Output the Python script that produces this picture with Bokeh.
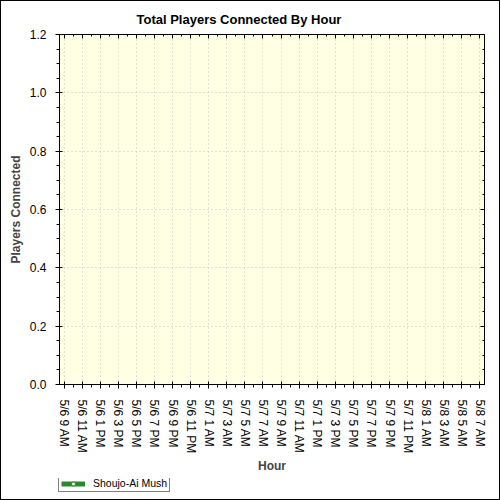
from bokeh.plotting import figure
from bokeh.layouts import column
from bokeh.models import (Range1d, FixedTicker, LinearAxis,
                          Legend, LegendItem, ColumnDataSource, Title)
from bokeh.embed import file_html
from bokeh.resources import INLINE

hours = ["5/6 9 AM", "5/6 10 AM", "5/6 11 AM", "5/6 12 PM", "5/6 1 PM", "5/6 2 PM",
         "5/6 3 PM", "5/6 4 PM", "5/6 5 PM", "5/6 6 PM", "5/6 7 PM", "5/6 8 PM",
         "5/6 9 PM", "5/6 10 PM", "5/6 11 PM", "5/7 12 AM", "5/7 1 AM", "5/7 2 AM",
         "5/7 3 AM", "5/7 4 AM", "5/7 5 AM", "5/7 6 AM", "5/7 7 AM", "5/7 8 AM",
         "5/7 9 AM", "5/7 10 AM", "5/7 11 AM", "5/7 12 PM", "5/7 1 PM", "5/7 2 PM",
         "5/7 3 PM", "5/7 4 PM", "5/7 5 PM", "5/7 6 PM", "5/7 7 PM", "5/7 8 PM",
         "5/7 9 PM", "5/7 10 PM", "5/7 11 PM", "5/8 12 AM", "5/8 1 AM", "5/8 2 AM",
         "5/8 3 AM", "5/8 4 AM", "5/8 5 AM", "5/8 6 AM", "5/8 7 AM"]

tick_labels = ["5/6 9 AM", "5/6 11 AM", "5/6 1 PM", "5/6 3 PM", "5/6 5 PM", "5/6 7 PM",
               "5/6 9 PM", "5/6 11 PM", "5/7 1 AM", "5/7 3 AM", "5/7 5 AM", "5/7 7 AM",
               "5/7 9 AM", "5/7 11 AM", "5/7 1 PM", "5/7 3 PM", "5/7 5 PM", "5/7 7 PM",
               "5/7 9 PM", "5/7 11 PM", "5/8 1 AM", "5/8 3 AM", "5/8 5 AM", "5/8 7 AM"]

y_ticks = [0.0, 0.2, 0.4, 0.6, 0.8, 1.0, 1.2]
y_tick_labels = ["0.0", "0.2", "0.4", "0.6", "0.8", "1.0", "1.2"]

series_name = "Shoujo-Ai Mush"
players = [0, 0, 0, 0, 0, 0, 0, 0, 0, 0, 0, 0, 0, 0, 0, 0, 0, 0, 0, 0, 0, 0, 0, 0,
           0, 0, 0, 0, 0, 0, 0, 0, 0, 0, 0, 0, 0, 0, 0, 0, 0, 0, 0, 0, 0, 0, 0]

FONT = "Liberation Sans"
GREEN = "#2A8A2A"

idx = list(range(len(hours)))
major_pos = [hours.index(t) for t in tick_labels]
minor_pos = [i for i in idx if i not in major_pos]
overrides = {hours.index(t): t for t in tick_labels}

y_minor = []
for a, b in zip(y_ticks[:-1], y_ticks[1:]):
    step = (b - a) / 4
    y_minor += [a + step, a + 2 * step, a + 3 * step]

src = ColumnDataSource(data=dict(x=idx, y=players, hour=hours))

P_H = 477
p = figure(width=498, height=P_H,
           x_range=Range1d(-0.5, len(hours) - 0.5), y_range=Range1d(0, 1.2),
           output_backend="svg", toolbar_location=None, frame_align=False,
           min_border_left=58, min_border_right=15, min_border_top=33, min_border_bottom=P_H - 383,
           background_fill_color="#FFFFE4", border_fill_color="white",
           outline_line_color="black", outline_line_width=1)

p.title = Title(text="Total Players Connected By Hour", align="left", offset=77,
                text_font=FONT, text_font_size="13px", text_font_style="bold",
                text_color="black", standoff=16, text_line_height=0.6)

xticker = FixedTicker(ticks=major_pos, minor_ticks=minor_pos)
yticker = FixedTicker(ticks=y_ticks, minor_ticks=y_minor)

# bottom axis
xa = p.xaxis[0]
xa.ticker = xticker
xa.major_label_overrides = overrides
xa.major_label_orientation = "vertical"
xa.major_label_text_font = FONT
xa.major_label_text_font_size = "12px"
xa.major_label_text_color = "black"
xa.major_label_standoff = 11
xa.axis_label = "Hour"
xa.axis_label_text_font = FONT
xa.axis_label_text_font_size = "12px"
xa.axis_label_text_font_style = "bold"
xa.axis_label_standoff = 3
xa.major_tick_in = 3
xa.major_tick_out = 4
xa.minor_tick_in = 0
xa.minor_tick_out = 3

# left axis
ya = p.yaxis[0]
ya.ticker = yticker
ya.major_label_overrides = dict(zip(y_ticks, y_tick_labels))
ya.major_label_text_font = FONT
ya.major_label_text_font_size = "12px"
ya.major_label_text_color = "black"
ya.major_label_standoff = 9
ya.axis_label = "Players Connected"
ya.axis_label_text_font = FONT
ya.axis_label_text_font_size = "12px"
ya.axis_label_text_font_style = "bold"
ya.axis_label_standoff = 4
ya.major_tick_in = 3
ya.major_tick_out = 4
ya.minor_tick_in = 0
ya.minor_tick_out = 3

# mirrored axes
top = LinearAxis(ticker=xticker, major_label_text_font_size="0px",
                 major_tick_in=4, major_tick_out=0, minor_tick_in=2, minor_tick_out=0,
                 major_label_standoff=0)
right = LinearAxis(ticker=yticker, major_label_text_font_size="0px",
                   major_tick_in=4, major_tick_out=0, minor_tick_in=2, minor_tick_out=0,
                   major_label_standoff=0)
p.add_layout(top, "above")
p.add_layout(right, "right")

p.xgrid.ticker = xticker
p.ygrid.ticker = yticker
for g in (p.xgrid[0], p.ygrid[0]):
    g.grid_line_color = "#C4C4C4"
    g.grid_line_dash = "1 3"
    g.grid_line_width = 1

# data (all zero: lies under the x axis)
p.line("x", "y", source=src, line_color=GREEN, line_width=1, level="underlay")

# legend strip below the chart
LG_H = 498 - P_H
lg = figure(width=498, height=LG_H, x_range=Range1d(0, 1), y_range=Range1d(0, 1),
            x_axis_location=None, y_axis_location=None, frame_align=False,
            output_backend="svg", toolbar_location=None,
            min_border=0, min_border_left=0, min_border_right=0,
            min_border_top=0, min_border_bottom=0,
            background_fill_color="white", border_fill_color="white",
            outline_line_color=None)
lg.grid.visible = False
legend_line = lg.line("x", "y", source=src, line_color=GREEN, line_width=5, visible=False)
legend_pts = lg.scatter("x", "y", source=src, marker="square", size=7,
                        fill_color="white", line_color=GREEN, line_width=1, visible=False)
legend = Legend(items=[LegendItem(label=series_name, renderers=[legend_line, legend_pts])],
                location=(57, LG_H - 14), orientation="horizontal",
                label_text_font=FONT, label_text_font_size="10.5px", label_text_color="black",
                glyph_width=24, glyph_height=9, label_height=9, label_standoff=8,
                padding=2, margin=0, spacing=0,
                border_line_color="black", border_line_width=1,
                background_fill_color="white", background_fill_alpha=1)
lg.add_layout(legend, "center")

layout = column(p, lg, spacing=0)
layout.styles = {"border": "1px solid black"}

open("out.html", "w").write(file_html(layout, INLINE))
